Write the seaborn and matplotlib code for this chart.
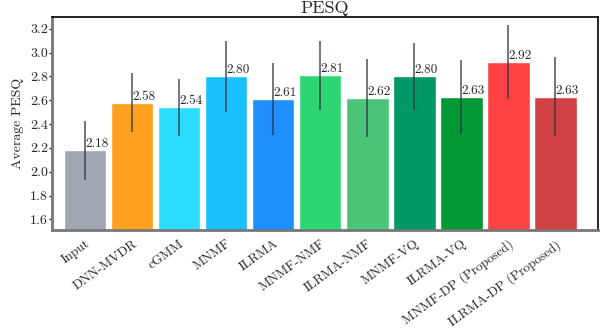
import numpy as np
import pandas as pd
import matplotlib
matplotlib.use("Agg")
import matplotlib.pyplot as plt
import seaborn as sns

# values
methods = ['Input', 'DNN-MVDR', 'cGMM', 'MNMF', 'ILRMA', 'MNMF-NMF', 'ILRMA-NMF',
           'MNMF-VQ', 'ILRMA-VQ', 'MNMF-DP (Proposed)', 'ILRMA-DP (Proposed)']
pesq_mean = [2.18, 2.58, 2.54, 2.80, 2.61, 2.81, 2.62, 2.80, 2.63, 2.92, 2.63]
pesq_std = [0.25, 0.25, 0.24, 0.30, 0.30, 0.29, 0.33, 0.28, 0.31, 0.31, 0.33]
colors = ['#a0a7b0', '#ffa01e', '#2bdcff', '#1ac0ff', '#1f8fff', '#2ed573',
          '#4cc47a', '#009865', '#009935', '#ff4243', '#d04243']

sns.set_style("white")
plt.rcParams['font.family'] = 'serif'
plt.rcParams['font.serif'] = ['cmr10', 'DejaVu Serif']
plt.rcParams['mathtext.fontset'] = 'cm'
plt.rcParams['axes.formatter.use_mathtext'] = True

df = pd.DataFrame({'Method': methods, 'PESQ': pesq_mean})

fig, ax = plt.subplots(figsize=(6.15, 3.32), dpi=100)
sns.barplot(data=df, x='Method', y='PESQ', hue='Method', palette=colors,
            width=0.9, saturation=1, errorbar=None, legend=False, ax=ax)
ax.errorbar(range(len(methods)), pesq_mean, yerr=pesq_std, fmt='none',
            ecolor='#2f3640', elinewidth=1.2, alpha=0.8)

# value labels
for i, v in enumerate(pesq_mean):
    ax.text(i, v, f'{v:.2f}', ha='left', va='bottom', fontsize=9.5)

ax.set_ylim(1.51, 3.30)
ax.set_xlim(-0.7, 10.9)
ticks = np.arange(1.6, 3.21, 0.2)
ax.set_yticks(ticks)
ax.set_yticklabels([f'{t:.1f}' for t in ticks])
ax.set_xlabel('')
ax.set_ylabel('Average PESQ', fontsize=10)
ax.set_title('PESQ', fontsize=13, pad=3)
plt.xticks(rotation=36, ha='right', rotation_mode='anchor', fontsize=9.5)
plt.yticks(fontsize=10)
ax.tick_params(axis='y', left=True, length=2, width=1, pad=1)
ax.tick_params(axis='x', bottom=False, pad=2)

for s in ['left', 'bottom']:
    ax.spines[s].set_color('#777777')
    ax.spines[s].set_linewidth(2)
for s in ['top', 'right']:
    ax.spines[s].set_color('black')
    ax.spines[s].set_linewidth(1.2)

plt.subplots_adjust(left=0.085, right=0.972, top=0.949, bottom=0.307)
plt.savefig('out.png', dpi=100)
